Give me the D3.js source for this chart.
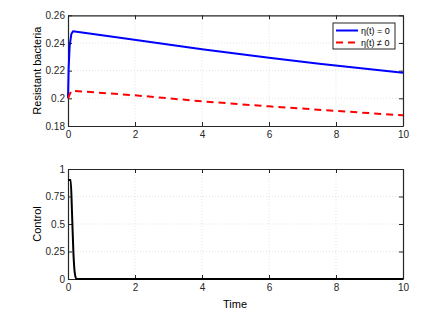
<!DOCTYPE html>
<html>
<head>
<meta charset="utf-8">
<script src="https://cdn.jsdelivr.net/npm/d3@7"></script>
<style>
  body { margin: 0; background: #fff; }
  text { font-family: "Liberation Sans", Arial, sans-serif; }
</style>
</head>
<body>
<script>
// values
const timeBlue = [0, 0.02, 0.05, 0.1, 0.15, 1.5, 4, 6, 7.5, 10]
const resistantNoCtrl = [0.2, 0.222, 0.238, 0.2465, 0.2485, 0.244, 0.2354, 0.2293, 0.225, 0.2184]
const timeRed = [0, 0.1, 2, 4, 6, 8, 10]
const resistantCtrl = [0.2, 0.2055, 0.2022, 0.1978, 0.1942, 0.1909, 0.1877]
const timeCtrl = [0, 0.08, 0.12, 0.16, 0.2, 0.25, 10]
const control = [0.9, 0.9, 0.6, 0.25, 0.06, 0, 0]

const xTicks = [0, 2, 4, 6, 8, 10]
const yTicksTop = [0.18, 0.2, 0.22, 0.24, 0.26]
const yTicksBot = [0, 0.25, 0.5, 0.75, 1]
const legendLabels = ["\u03B7(t) = 0", "\u03B7(t) \u2260 0"]

const w = 434, h = 316
const left = 68, right = 403

const svg = d3.select("body").append("svg").attr("width", w).attr("height", h)

function panel(top, bottom, yDomain, yTicks, yFmt, ylabel) {
  const x = d3.scaleLinear().domain([0, 10]).range([left, right])
  const y = d3.scaleLinear().domain(yDomain).range([bottom, top])
  const g = svg.append("g")

  // grid
  g.selectAll(".gx").data(xTicks.slice(1, -1)).enter().append("line")
    .attr("x1", d => x(d)).attr("x2", d => x(d)).attr("y1", top).attr("y2", bottom)
    .attr("stroke", "#dcdcdc").attr("stroke-width", 0.8).attr("stroke-dasharray", "1,2")
  g.selectAll(".gy").data(yTicks.slice(1, -1)).enter().append("line")
    .attr("x1", left).attr("x2", right).attr("y1", d => y(d)).attr("y2", d => y(d))
    .attr("stroke", "#dcdcdc").attr("stroke-width", 0.8).attr("stroke-dasharray", "1,2")

  // axes, ticks pointing in
  const xb = g.append("g").attr("transform", `translate(0,${bottom})`)
    .call(d3.axisBottom(x).tickValues(xTicks).tickSizeInner(-4).tickSizeOuter(0).tickPadding(5).tickFormat(d3.format("d")))
  const xt = g.append("g").attr("transform", `translate(0,${top})`)
    .call(d3.axisTop(x).tickValues(xTicks).tickSizeInner(-4).tickSizeOuter(0).tickFormat(""))
  const yl = g.append("g").attr("transform", `translate(${left},0)`)
    .call(d3.axisLeft(y).tickValues(yTicks).tickSizeInner(-4).tickSizeOuter(0).tickPadding(3).tickFormat(yFmt))
  const yr = g.append("g").attr("transform", `translate(${right},0)`)
    .call(d3.axisRight(y).tickValues(yTicks).tickSizeInner(-4).tickSizeOuter(0).tickFormat(""))
  for (const a of [xb, xt, yl, yr]) {
    a.selectAll("path").attr("stroke", "#262626").attr("stroke-width", 1.2)
    a.selectAll("line").attr("stroke", "#262626")
    a.selectAll("text").attr("font-size", 10).attr("fill", "#262626")
      .style("font-family", "'Liberation Sans', Arial, sans-serif")
  }

  svg.append("text")
    .attr("transform", `translate(40.5,${(top + bottom) / 2}) rotate(-90)`)
    .attr("text-anchor", "middle").attr("font-size", 11).attr("fill", "#000")
    .text(ylabel)

  return { x, y }
}

// top panel
const p1 = panel(15.3, 126, [0.18, 0.26], yTicksTop, d => d3.format("")(+d.toFixed(2)), "Resistant bacteria")
const line1 = d3.line().x(d => p1.x(d[0])).y(d => p1.y(d[1]))
svg.append("path").datum(timeBlue.map((t, i) => [t, resistantNoCtrl[i]]))
  .attr("d", line1).attr("fill", "none").attr("stroke", "#0000ff").attr("stroke-width", 2)
  .attr("stroke-linejoin", "round")
svg.append("path").datum(timeRed.map((t, i) => [t, resistantCtrl[i]]))
  .attr("d", line1).attr("fill", "none").attr("stroke", "#ff0000").attr("stroke-width", 2)
  .attr("stroke-dasharray", "7,5")

// legend
const lg = svg.append("g").attr("transform", "translate(333,23)")
lg.append("rect").attr("width", 62).attr("height", 26).attr("fill", "#fff")
  .attr("stroke", "#262626").attr("stroke-width", 1)
const legColors = ["#0000ff", "#ff0000"]
legendLabels.forEach((lab, i) => {
  const yy = 7.5 + i * 12
  lg.append("line").attr("x1", 3).attr("x2", 25).attr("y1", yy).attr("y2", yy)
    .attr("stroke", legColors[i]).attr("stroke-width", 2)
    .attr("stroke-dasharray", i ? "7,5" : null)
  lg.append("text").attr("x", 28).attr("y", yy + 3.5).attr("font-size", 9).text(lab)
})

// bottom panel
const p2 = panel(169, 279, [0, 1], yTicksBot, d => d3.format("")(d), "Control")
const line2 = d3.line().x(d => p2.x(d[0])).y(d => p2.y(d[1])).curve(d3.curveMonotoneX)
svg.append("path").datum(timeCtrl.map((t, i) => [t, control[i]]))
  .attr("d", line2).attr("fill", "none").attr("stroke", "#000").attr("stroke-width", 2)

svg.append("text").attr("x", 235).attr("y", 308).attr("text-anchor", "middle")
  .attr("font-size", 11).text("Time")
</script>
</body>
</html>
